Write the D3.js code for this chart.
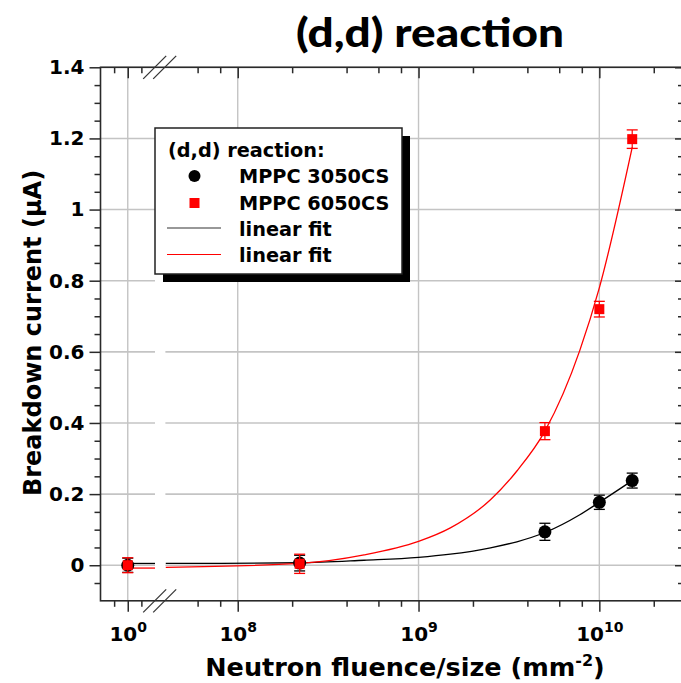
<!DOCTYPE html>
<html><head><meta charset="utf-8">
<script src="https://cdn.jsdelivr.net/npm/d3@7"></script>
<style>
body{margin:0;background:#fff}
svg text{font-family:"DejaVu Sans",Verdana,sans-serif;font-weight:bold;fill:#000}
</style>
</head><body><svg id="c" width="681" height="683"></svg>
<script>
// ---------- data ----------
const pointFluence = [1, 2.2e8, 5e9, 1e10, 1.52e10];
const mppc3050 = [0.0, 0.006, 0.094, 0.177, 0.238];
const mppc3050Err = [0.02, 0.022, 0.024, 0.02, 0.021];
const mppc6050 = [0.0, 0.004, 0.377, 0.72, 1.198];
const mppc6050Err = [0.021, 0.027, 0.024, 0.022, 0.026];

// fit curves: left (before the axis break) and right parts
const fitFluenceLow = [1, 2];
const fit3050Low = [0.005, 0.005];
const fit6050Low = [-0.008, -0.008];
const fitFluence = [4e7, 2.2e8, 5e8, 1e9, 1.5e9, 2.5e9, 3.5e9, 5e9, 7.8e9, 1e10, 1.52e10];
const fit3050 = [0.005, 0.007, 0.014, 0.022, 0.031, 0.049, 0.066, 0.092, 0.142, 0.177, 0.238];
const fit6050 = [-0.006, 0.005, 0.029, 0.067, 0.105, 0.184, 0.265, 0.377, 0.604, 0.78, 1.175];

const yMajorTicks = [0, 0.2, 0.4, 0.6, 0.8, 1, 1.2, 1.4];
const yMinorTicks = [-0.05, 0.05, 0.1, 0.15, 0.25, 0.3, 0.35, 0.45, 0.5, 0.55, 0.65, 0.7, 0.75, 0.85, 0.9, 0.95, 1.05, 1.1, 1.15, 1.25, 1.3, 1.35];
const xLowMajor = [1];
const xLowMinor = [0.5, 1.5];
const xHighMajor = [1e8, 1e9, 1e10];
const xHighMinor = [6e7, 8e7, 2e8, 4e8, 6e8, 8e8, 2e9, 4e9, 6e9, 8e9, 2e10];

const legendLabels = ["(d,d) reaction:", "MPPC 3050CS", "MPPC 6050CS", "linear fit", "linear fit"];
const titleText = "(d,d) reaction";
const xTitle = "Neutron fluence/size (mm";
const yTitle = "Breakdown current (\u03bcA)";

// ---------- layout ----------
const svg = d3.select("#c");
const L = 100.5, T = 67.3, B = 600.8, R = 682;
const seg1End = 155, seg2Start = 165.4;
const xLow = d3.scaleLinear().domain([0, 2]).range([L, seg1End]);
const xHigh = d3.scaleLog().domain([Math.pow(10, 7.6), Math.pow(10, 10.46)]).range([seg2Start, 682.5]);
const y = d3.scaleLinear().domain([-0.1, 1.4]).range([B, T]);
const xPos = f => f < 10 ? xLow(f) : xHigh(f);

const axisColor = "#2a2a2a", gridColor = "#c4c4c4";

// ---------- grid ----------
const grid = svg.append("g");
yMajorTicks.forEach(v => {
  [[L, seg1End], [seg2Start, R]].forEach(([a, b]) => {
    grid.append("line").attr("x1", a).attr("x2", b).attr("y1", y(v)).attr("y2", y(v))
      .attr("stroke", gridColor).attr("stroke-width", 1.6);
  });
});
xLowMajor.map(xLow).concat(xHighMajor.map(xHigh)).forEach(px => {
  grid.append("line").attr("x1", px).attr("x2", px).attr("y1", T).attr("y2", B)
    .attr("stroke", gridColor).attr("stroke-width", 1.4);
});

// ---------- axes ----------
function styleAxis(g) {
  g.selectAll("path,line").attr("stroke", axisColor).attr("stroke-width", 1.5);
  g.select(".domain").remove();
}
function expLabel(sel) {
  sel.selectAll("text").each(function(d) {
    const t = d3.select(this);
    const e = Math.round(Math.log10(d));
    t.text(null).attr("font-size", 20).attr("font-family", "DejaVu Sans").attr("font-weight", "bold").attr("dy", null).attr("y", 40.5);
    t.append("tspan").text("10");
    t.append("tspan").attr("dy", -9).attr("font-size", 14).text(e);
  });
}
// left
const gl = svg.append("g").attr("transform", `translate(${L},0)`);
gl.append("g").call(d3.axisLeft(y).tickValues(yMinorTicks).tickSize(6).tickFormat("")).call(styleAxis);
const glm = gl.append("g").call(d3.axisLeft(y).tickValues(yMajorTicks).tickSize(11).tickPadding(5).tickFormat(d3.format("~g")));
styleAxis(glm);
glm.selectAll("text").attr("font-size", 20).attr("font-family", "DejaVu Sans").attr("font-weight", "bold").attr("fill", "#000");
// right (inward)
const gr = svg.append("g").attr("transform", `translate(${R},0)`);
gr.append("g").call(d3.axisRight(y).tickValues(yMinorTicks).tickSize(-4).tickFormat("")).call(styleAxis);
gr.append("g").call(d3.axisRight(y).tickValues(yMajorTicks).tickSize(-7).tickFormat("")).call(styleAxis);
// bottom
const gb = svg.append("g").attr("transform", `translate(0,${B})`);
gb.append("g").call(d3.axisBottom(xLow).tickValues(xLowMinor).tickSize(6).tickFormat("")).call(styleAxis);
gb.append("g").call(d3.axisBottom(xHigh).tickValues(xHighMinor).tickSize(6).tickFormat("")).call(styleAxis);
const gbl = gb.append("g").call(d3.axisBottom(xLow).tickValues(xLowMajor).tickSize(11).tickFormat(d => d));
styleAxis(gbl); expLabel(gbl);
const gbh = gb.append("g").call(d3.axisBottom(xHigh).tickValues(xHighMajor).tickSize(11).tickFormat(d => d));
styleAxis(gbh); expLabel(gbh);
// top (inward)
const gt = svg.append("g").attr("transform", `translate(0,${T})`);
gt.append("g").call(d3.axisTop(xLow).tickValues(xLowMinor).tickSize(-6).tickFormat("")).call(styleAxis);
gt.append("g").call(d3.axisTop(xHigh).tickValues(xHighMinor).tickSize(-6).tickFormat("")).call(styleAxis);
gt.append("g").call(d3.axisTop(xLow).tickValues(xLowMajor).tickSize(-11).tickFormat("")).call(styleAxis);
gt.append("g").call(d3.axisTop(xHigh).tickValues(xHighMajor).tickSize(-11).tickFormat("")).call(styleAxis);

// frame lines
svg.append("rect").attr("x", L).attr("y", T).attr("width", R - L).attr("height", B - T)
  .attr("fill", "none").attr("stroke", axisColor).attr("stroke-width", 1.6);

// break marks
const bx = (seg1End + seg2Start) / 2;
[T, B].forEach(yy => {
  [-5.5, 4.5].forEach(off => {
    svg.append("line").attr("x1", bx + off - 11.5).attr("y1", yy + 11.5)
      .attr("x2", bx + off + 11.5).attr("y2", yy - 11.5)
      .attr("stroke", "#333").attr("stroke-width", 1.2);
  });
});

// ---------- fit lines ----------
const line = d3.line().x(d => xPos(d[0])).y(d => y(d[1])).curve(d3.curveMonotoneX);
function drawFit(lowVals, highVals, color) {
  svg.append("path").datum(fitFluenceLow.map((f, i) => [f, lowVals[i]]))
    .attr("d", line).attr("fill", "none").attr("stroke", color).attr("stroke-width", 1.3);
  svg.append("path").datum(fitFluence.map((f, i) => [f, highVals[i]]))
    .attr("d", line).attr("fill", "none").attr("stroke", color).attr("stroke-width", 1.3);
}
drawFit(fit3050Low, fit3050, "#000");
drawFit(fit6050Low, fit6050, "#ff0000");

// ---------- points with error bars ----------
function drawPoints(vals, errs, color, shape) {
  const g = svg.append("g");
  pointFluence.forEach((f, i) => {
    const px = xPos(f), v = vals[i], e = errs[i];
    g.append("line").attr("x1", px).attr("x2", px).attr("y1", y(v - e)).attr("y2", y(v + e))
      .attr("stroke", color).attr("stroke-width", 1.2);
    [v - e, v + e].forEach(w => g.append("line").attr("x1", px - 5.5).attr("x2", px + 5.5)
      .attr("y1", y(w)).attr("y2", y(w)).attr("stroke", color).attr("stroke-width", 1.3));
    if (shape === "circle") {
      g.append("circle").attr("cx", px).attr("cy", y(v)).attr("r", 6.5).attr("fill", color);
    } else {
      g.append("rect").attr("x", px - 5).attr("y", y(v) - 5).attr("width", 10).attr("height", 10).attr("fill", color);
    }
  });
}
drawPoints(mppc3050, mppc3050Err, "#000", "circle");
drawPoints(mppc6050, mppc6050Err, "#ff0000", "square");

// ---------- legend ----------
const lg = svg.append("g").attr("transform", "translate(155,128)");
lg.append("rect").attr("x", 8).attr("y", 8).attr("width", 247).attr("height", 146).attr("fill", "#000");
lg.append("rect").attr("x", 0).attr("y", 0).attr("width", 247).attr("height", 146)
  .attr("fill", "#fff").attr("stroke", "#222").attr("stroke-width", 1.5);
const rowY = [28.5, 54.5, 81.5, 107.5, 134];
lg.append("text").attr("x", 13).attr("y", rowY[0]).attr("font-size", 19.3).text(legendLabels[0]);
for (let i = 1; i < 5; i++) {
  lg.append("text").attr("x", 84).attr("y", rowY[i]).attr("font-size", 19.3).text(legendLabels[i]);
}
lg.append("circle").attr("cx", 39.5).attr("cy", rowY[1] - 6.5).attr("r", 6).attr("fill", "#000");
lg.append("rect").attr("x", 34.5).attr("y", rowY[2] - 11.5).attr("width", 10).attr("height", 10).attr("fill", "#ff0000");
lg.append("line").attr("x1", 12).attr("x2", 66).attr("y1", rowY[3] - 7.5).attr("y2", rowY[3] - 7.5).attr("stroke", "#333").attr("stroke-width", 1.2);
lg.append("line").attr("x1", 12).attr("x2", 66).attr("y1", rowY[4] - 7.5).attr("y2", rowY[4] - 7.5).attr("stroke", "#ff0000").attr("stroke-width", 1.2);

// ---------- titles ----------
svg.append("text").attr("x", 430).attr("y", 47).attr("text-anchor", "middle")
  .style("font-family", "Lato, 'Open Sans', sans-serif").style("font-weight", "900").attr("font-size", 40)
  .attr("textLength", 268).attr("lengthAdjust", "spacingAndGlyphs").text(titleText);
const xt = svg.append("text").attr("x", 405).attr("y", 676).attr("text-anchor", "middle").attr("font-size", 25.5);
xt.append("tspan").text(xTitle);
xt.append("tspan").attr("dy", -10).attr("font-size", 16).text("-2");
xt.append("tspan").attr("dy", 10).text(")");
svg.append("text").attr("transform", "translate(41,333) rotate(-90)").attr("text-anchor", "middle")
  .attr("font-size", 24).text(yTitle);
</script>
</body></html>
